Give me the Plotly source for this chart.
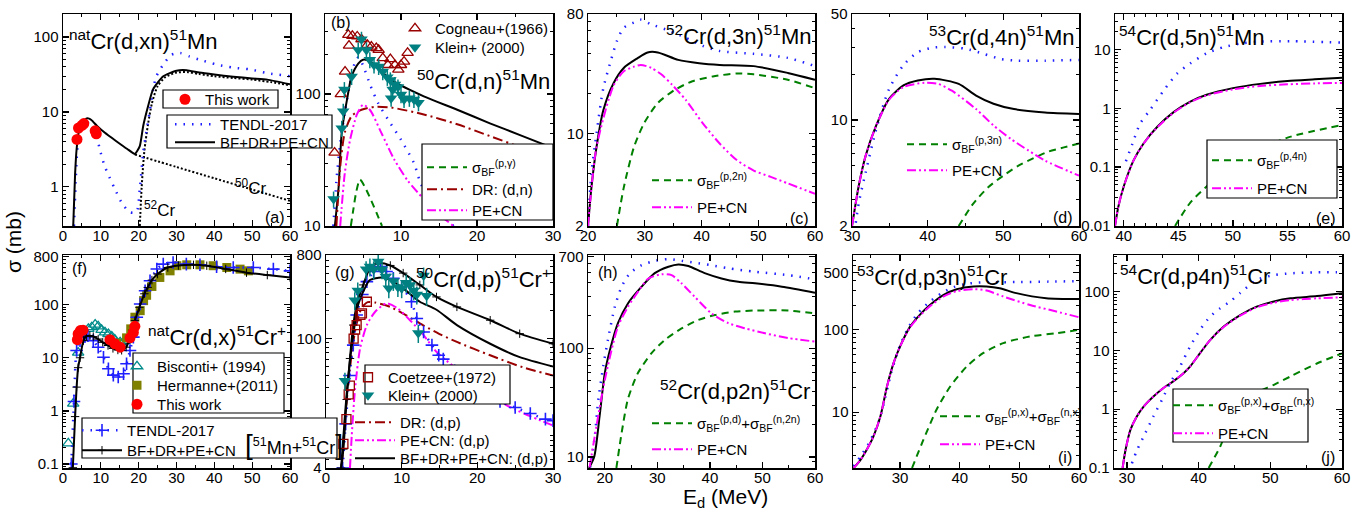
import math
import plotly.graph_objects as go

W, H = 1364, 513
FONT = "Liberation Sans, Arial, Helvetica, sans-serif"


def X(px):
    return px / W


def Y(py):
    return 1 - py / H


# ---------------- data ----------------
# (a) natCr(d,xn)51Mn
a_tot_E = [2.7, 3.2, 3.6, 4.2, 5.0, 6.0, 6.7, 7.5, 9.0, 11, 14, 17, 19.0, 20.3, 21.2, 22.5, 23.8, 26.5, 30, 32.7, 36, 40, 45, 50, 54, 60]
a_tot = [0.3, 1.5, 3.2, 5.5, 7.2, 8.1, 8.2, 7.8, 6.5, 5.3, 4.1, 3.2, 2.75, 3.5, 6.5, 12, 20, 30, 35.5, 36, 33.5, 31.5, 29.5, 28, 27, 23.4]
a_50_E = [19, 30, 40, 50, 60]
a_50 = [2.7, 1.84, 1.30, 0.92, 0.65]
a_52_E = [20.3, 20.8, 21.5, 22.5, 23.5, 25, 27, 30, 33, 36, 40, 45, 50, 55, 60]
a_52 = [0.3, 1.0, 3.0, 7, 13, 22, 29, 33.5, 34, 32, 30, 28.4, 27, 25, 22.7]
a_tendl_E = [2.9, 3.3, 3.7, 4.3, 5.0, 5.8, 6.6, 7.5, 8.8, 9.7, 11, 12.4, 13.7, 15.4, 17.6, 19.4, 20.3, 21.2, 22, 23, 23.8, 24.7, 26.5, 28.7, 31, 33.5, 36, 40.6, 45, 49.4, 54, 60]
a_tendl = [0.3, 1.0, 2.8, 5.5, 7.2, 7.6, 7.2, 6.2, 5.0, 3.2, 1.9, 1.3, 0.94, 0.63, 0.46, 0.46, 0.94, 2.9, 5.3, 10.8, 20, 30, 43, 58, 61, 55, 50, 43, 39, 37, 33, 30]
a_this_E = [3.7, 4.1, 5.0, 5.5, 8.5, 8.8]
a_this = [4.3, 6.1, 6.6, 7.0, 5.6, 5.1]

# (b) 50Cr(d,n)51Mn
b_tot_E = [1.3, 1.8, 2.2, 2.9, 3.5, 4.4, 5.0, 5.9, 7.4, 9.1, 13, 17.4, 21.7, 26, 30]
b_tot = [10, 20, 51, 91, 136, 171, 182, 177, 148, 124, 96, 76, 60, 48, 39]
b_bf_E = [3.4, 3.7, 4.1, 4.6, 5.2, 6.0, 6.8, 7.5]
b_bf = [10, 13, 18, 22.5, 20, 16, 12.5, 10]
b_dr_E = [1.5, 2.0, 2.6, 3.5, 4.8, 6.5, 8.7, 13, 17.4, 21.7, 26, 30]
b_dr = [10, 28, 51, 68, 76, 80, 79, 70, 59, 48, 39, 32]
b_pe_E = [2.0, 2.6, 3.3, 4.2, 5.0, 5.9, 7.4, 9.1, 10.9, 13, 15.2, 16.9]
b_pe = [10, 25, 45, 70, 83, 76, 51, 32, 22, 16, 12, 10]
b_tendl_E = [1.1, 1.5, 2.0, 2.6, 3.3, 3.9, 4.4, 5.0, 6.0, 7.0, 8.3, 10.0, 11.7, 12.6, 14, 15.5, 16.9]
b_tendl = [10, 22, 42, 72, 121, 171, 190, 165, 115, 85, 64, 45, 30, 21, 15.5, 12.5, 10]
b_cog_E = [1.26, 2.08, 2.64, 3.16, 3.07, 3.6, 4.24, 4.8, 5.58, 6.1, 6.75, 7.06, 7.6, 8.27, 8.6, 9.2, 9.65, 10.0, 10.4, 10.87]
b_cog = [36, 100, 148, 233, 281, 276, 273, 260, 236, 229, 223, 216, 187, 166, 184, 166, 153, 166, 176, 205]
b_klein_E = [1.13, 2.2, 2.4, 2.55, 3.5, 4.37, 4.8, 5.45, 5.9, 6.45, 7.06, 7.6, 8.2, 8.6, 8.9, 9.2, 9.6, 8.7, 10.0, 10.4, 11.1, 11.7, 12.3]
b_klein = [16, 55, 74, 108, 136, 216, 260, 216, 182, 166, 162, 148, 134, 128, 108, 118, 113, 93, 99, 91, 93, 91, 86]

# (c) 52Cr(d,3n)51Mn
c_tot_E = [20.0, 20.6, 21.5, 22.7, 24.5, 26.3, 28.7, 30.5, 32.3, 35.9, 39.6, 43.2, 49.2, 55.2, 60]
c_tot = [2.0, 3.9, 7.9, 15, 24, 31.3, 37, 41, 41, 36, 34, 33, 32.3, 28.7, 25.5]
c_tendl_E = [20.0, 20.6, 21.5, 22.7, 23.9, 25.1, 26.3, 28.1, 29.3, 31.1, 34.2, 37.2, 40.2, 43.2, 49.2, 55.2, 60]
c_tendl = [2, 5, 10, 22, 34, 50, 63, 69, 72.5, 67, 60, 53, 46, 42, 40, 37.3, 32.3]
c_bf_E = [25.1, 26.3, 28.1, 29.9, 32.3, 35.3, 38.4, 42, 46.2, 49.2, 55.2, 60]
c_bf = [2, 3.9, 7.9, 12, 17, 21.4, 24.8, 27, 28.4, 28, 25.5, 22]
c_pe_E = [20.0, 21.5, 24.5, 26.3, 28.1, 29.3, 31.1, 32.9, 34.8, 37.2, 40.2, 43.2, 46.2, 49.2, 52.2, 55.2, 60]
c_pe = [2, 7.9, 23, 29.5, 32, 33, 31.4, 28, 23.4, 18, 12, 8.4, 6.3, 5.25, 4.7, 4.2, 3.5]

# (d) 53Cr(d,4n)51Mn
d_tot_E = [30, 30.9, 31.8, 33.2, 34.9, 36.8, 38.7, 40.9, 44.1, 46.4, 48.7, 51.4, 55.5, 60]
d_tot = [2, 3.7, 5.8, 9.2, 13.8, 16.9, 18.2, 18.7, 17.3, 14.5, 12.8, 11.8, 11.2, 10.95]
d_pe_E = [30, 30.9, 31.8, 33.2, 34.9, 36.8, 39.6, 41.4, 43.2, 46.4, 48.7, 51, 53.3, 55.5, 60]
d_pe = [2, 3.7, 5.8, 9.2, 13.6, 16.5, 17.6, 17.3, 15.6, 11.8, 9.2, 7.5, 6.3, 5.4, 4.3]
d_tendl_E = [30.5, 30.9, 31.8, 33.2, 34.9, 36.8, 38.7, 40.5, 42.3, 45, 47.3, 49.6, 51.9, 55.5, 60]
d_tendl = [2.1, 2.85, 4.5, 8.7, 16, 23, 28, 29.9, 30.3, 29.5, 27.4, 25.3, 24.6, 24.6, 24.9]
d_bf_E = [44.1, 46, 48, 50, 52, 54, 56, 58, 60]
d_bf = [2, 2.8, 3.6, 4.3, 5.0, 5.6, 6.2, 6.6, 7.0]

# (e) 54Cr(d,5n)51Mn
e_tot_E = [39.2, 39.5, 40, 40.9, 41.8, 43.1, 44.6, 46.1, 47.6, 50, 52.5, 55, 57.5, 60]
e_tot = [0.01, 0.021, 0.047, 0.13, 0.25, 0.49, 0.87, 1.3, 1.7, 2.2, 2.6, 2.9, 3.1, 3.3]
e_pe = [0.01, 0.021, 0.047, 0.13, 0.25, 0.48, 0.85, 1.27, 1.65, 2.1, 2.4, 2.55, 2.65, 2.7]
e_tendl_E = [40.2, 40.8, 41.5, 42.4, 43.7, 44.9, 46.1, 47.6, 49.2, 50.7, 52.2, 55.3, 60]
e_tendl = [0.126, 0.25, 0.55, 0.93, 2.05, 3.9, 5.8, 8.6, 11, 12.6, 13.5, 13.8, 13.1]
e_bf_E = [44.7, 46.1, 47.6, 49.2, 52.2, 55.3, 60]
e_bf = [0.01, 0.025, 0.047, 0.089, 0.195, 0.33, 0.52]

# (f) natCr(d,x)51Cr cumulative
f_tot_E = [2.6, 3.2, 3.6, 4.0, 4.5, 5.4, 6.2, 7.1, 8.0, 9.3, 10.5, 11.9, 13.2, 14.5, 15.5, 16.7, 17.6, 18.4, 19.0, 20.2, 21.5, 22.4, 23.5, 25.0, 27.7, 30.5, 34.5, 38, 43, 48.5, 54, 60]
f_tot = [0.085, 0.78, 2.8, 6.5, 10, 21, 25.5, 26, 25, 22.5, 19.5, 17, 15, 14, 13.8, 15.8, 22, 33, 50, 89, 160, 211, 290, 376, 500, 545, 562, 540, 470, 400, 360, 325]
f_tendl_E = [2.2, 2.9, 3.6, 4.5, 5.8, 6.6, 8.0, 9.3, 10.7, 12.0, 13.3, 14.6, 16.0, 16.8, 17.7, 18.6, 19.5, 20.4, 21.7, 23, 24.8, 26.5, 29.1, 32.6, 36.2, 40.6, 45, 50.3, 55.6, 60]
f_tendl = [0.1, 1.5, 13.7, 21, 25, 26, 21, 15.8, 10.2, 6.2, 4.7, 4.35, 5.0, 7.7, 13.7, 24.4, 58, 103, 183, 282, 468, 580, 620, 578, 562, 517, 500, 500, 466, 433]
f_bis_E = [1.4, 2.7, 4.0, 6.7, 7.6, 8.5, 9.3, 10.2, 11.1, 12.0, 12.9, 13.7, 15.1, 16.4]
f_bis = [0.245, 1.37, 12.5, 35, 37.6, 42, 39, 33.5, 30, 28, 25, 22, 19.6, 21]
f_her_E = [14.2, 16.8, 17.9, 19.0, 20.4, 21.3, 22.1, 23.5, 25.6, 28.3, 30.1, 32.7, 36.2, 39.7, 43.3, 46.8, 49.0]
f_her = [18.8, 23.7, 35, 58, 77, 119, 150, 220, 325, 433, 540, 562, 562, 540, 500, 466, 433]
f_this_E = [3.8, 4.0, 4.6, 5.3, 12.4, 13.7, 15.1, 17.7, 18.6, 19.0]
f_this = [21.9, 28, 32.5, 33, 21.9, 18.3, 15.8, 23.7, 30, 39]

# (g) 50Cr(d,p)51Cr
g_all_E = [2.0, 2.3, 2.73, 3.17, 3.6, 4.27, 4.93, 5.8, 6.9, 8.5, 10.2, 12.4, 14.6, 17.3, 21.7, 25.6, 30]
g_all = [4, 6.4, 22, 61, 140, 272, 380, 575, 653, 617, 510, 380, 282, 220, 158, 113, 88]
g_dp_E = [2.0, 2.5, 2.95, 3.6, 4.27, 5.2, 5.8, 7.4, 8.9, 10.7, 12.4, 14.6, 17.3, 21.7, 25.6, 30]
g_dp = [4, 14.7, 40, 109, 235, 360, 430, 457, 413, 324, 250, 205, 140, 88, 63, 50]
g_dr_E = [2.1, 2.5, 3.0, 3.5, 4.0, 4.5, 5.0, 5.5, 6.5, 8.5, 10.5, 12.8, 15, 17.3, 21.7, 26, 30]
g_dr = [4.3, 13, 35, 80, 140, 195, 230, 248, 245, 220, 180, 140, 112, 92, 66, 49, 40]
g_pe_E = [3.17, 3.4, 3.84, 4.5, 5.4, 6.5, 8.0, 9.4, 11.1, 12.9, 14.6, 19.5, 23.9, 30]
g_pe = [4, 8.9, 28.6, 78, 140, 195, 240, 214, 158, 109, 72, 34, 19, 11.5]
g_tendl_E = [2.2, 2.6, 3.1, 3.6, 4.05, 4.8, 5.4, 6.3, 7.2, 8.0, 8.9, 10.0, 11.3, 12.0, 12.9, 14.0, 14.9, 15.5, 17, 19, 21, 23, 25, 27, 29, 30]
g_tendl = [4, 12, 40, 85, 180, 300, 413, 530, 600, 530, 447, 364, 250, 165, 118, 85, 66, 60, 45, 33, 26, 21, 18, 15.5, 13.5, 13]
g_coe_E = [2.3, 2.7, 3.0, 3.15, 3.65, 3.85, 4.05, 4.55, 4.75, 5.4]
g_coe = [7.3, 13.5, 25, 31, 100, 125, 140, 180, 187, 250]
g_klein_E = [2.5, 3.8, 4.2, 5.3, 5.8, 6.3, 6.9, 7.4, 7.9, 8.3, 8.9, 9.5, 10.0, 10.6, 11.1, 11.6, 12.0, 12.2, 12.9, 13.3]
g_klein = [35, 260, 330, 560, 600, 560, 680, 560, 470, 350, 420, 360, 350, 400, 380, 330, 300, 115, 480, 290]

# (h) 52Cr(d,p2n)51Cr
h_tot_E = [17.0, 18, 19, 20, 21, 22.5, 24.4, 27, 29.5, 32.1, 34, 35.9, 39, 42.2, 45.4, 48.6, 53.7, 60]
h_tot = [7.9, 10.1, 23.6, 59, 97, 170, 258, 368, 490, 562, 590, 570, 490, 438, 408, 395, 368, 324]
h_tendl_E = [17.2, 18.1, 18.7, 19.7, 20.6, 21.9, 23.2, 24.8, 27, 29.5, 32.1, 34.6, 37.1, 40.3, 43.5, 48.6, 54.9, 60]
h_tendl = [8, 15.5, 31.5, 68, 120, 240, 368, 490, 580, 636, 660, 636, 611, 580, 543, 505, 470, 430]
h_pe_E = [17.1, 20, 22.5, 24.4, 26.3, 28.3, 30.8, 32.7, 34.6, 37.1, 40.3, 43.5, 46.7, 50.5, 54.9, 60]
h_pe = [8, 51, 158, 240, 330, 438, 478, 470, 395, 297, 209, 170, 152, 137, 124, 115]
h_bf_E = [22.2, 23.2, 24.4, 26.3, 28.9, 31.4, 34.6, 37.8, 41, 44.8, 48.6, 54.9, 60]
h_bf = [7.9, 16.6, 34, 59, 90, 119, 152, 182, 202, 217, 222, 222, 209]

# (i) 53Cr(d,p3n)51Cr
i_tot_E = [22.2, 23.3, 24.4, 25.5, 26.7, 27.8, 28.9, 30, 31.7, 33.3, 35, 37.3, 39.5, 42.3, 44.5, 46.7, 49.5, 54.5, 60]
i_tot = [2.1, 2.6, 3.5, 5, 8.9, 20.5, 39.4, 63, 110, 152, 200, 266, 311, 336, 336, 320, 279, 242, 236]
i_pe_E = [22.2, 23.3, 24.4, 25.5, 26.7, 27.8, 28.9, 30, 31.7, 33.3, 35, 37.3, 39.5, 42.3, 44.5, 47.3, 51.8, 56.2, 60]
i_pe = [2.1, 2.6, 3.5, 5, 8.9, 20.5, 39.4, 63, 108, 148, 193, 255, 295, 312, 300, 254, 200, 167, 142]
i_tendl_E = [22.2, 23.5, 25, 26.5, 27.5, 28.5, 30, 31.5, 33, 35, 37, 39, 41, 43, 45, 50, 55, 60]
i_tendl = [2.2, 3.0, 4.5, 8, 15, 30, 65, 110, 160, 220, 280, 330, 360, 375, 378, 380, 385, 390]
i_bf_E = [32, 33.9, 36.1, 38.4, 41.2, 43.9, 47.3, 51.8, 56.2, 60]
i_bf = [2.1, 4.6, 10.7, 20.5, 36, 52, 69, 83, 91, 100]

# (j) 54Cr(d,p4n)51Cr
j_tot_E = [29.4, 29.8, 30.5, 31.4, 32.3, 33.7, 35.1, 36.5, 37.9, 38.8, 40.2, 41.6, 43.5, 45.8, 48.1, 50.5, 52.8, 56.5, 60]
j_tot = [0.1, 0.2, 0.45, 0.76, 1.1, 1.65, 2.3, 3.0, 4.1, 5.3, 9, 15, 25.5, 40, 55.6, 68, 77, 84, 94]
j_pe = [0.1, 0.2, 0.45, 0.76, 1.1, 1.65, 2.3, 3.0, 4.1, 5.3, 9, 15, 25, 39, 54, 65, 72, 77, 80]
j_tendl_E = [30.7, 31.4, 32.6, 33.7, 34.9, 36, 37.4, 38.8, 40.2, 41.6, 43, 44.4, 45.8, 48.1, 50.5, 52.8, 56.5, 59.3]
j_tendl = [0.12, 0.2, 0.4, 0.76, 1.45, 2.76, 5.3, 11.6, 22.4, 37.6, 52, 68, 95, 158, 191, 205, 213, 213]
j_bf_E = [41.4, 43, 44.4, 47.2, 50.5, 52.8, 56.5, 60]
j_bf = [0.1, 0.23, 0.58, 1.65, 2.6, 3.6, 6, 8.9]

# ---------------- axes ----------------
PANELS = {
    'a': dict(i=1, box=(63, 290, 14, 226), xr=[0, 60], yr=[0.3, 203], xt=[0, 10, 20, 30, 40, 50, 60], xl=None, yt=[1, 10, 100], xm=5),
    'b': dict(i=2, box=(325, 553, 14, 226), xr=[0, 30], yr=[10, 404], xt=[0, 10, 20, 30], xl=['', '10', '20', '30'], yt=[10, 100], xm=5),
    'c': dict(i=3, box=(588, 815, 14, 226), xr=[20, 60], yr=[2, 80], xt=[20, 30, 40, 50, 60], xl=None, yt=[2, 10, 80], xm=5),
    'd': dict(i=4, box=(852, 1079, 14, 226), xr=[30, 60], yr=[2, 50], xt=[30, 40, 50, 60], xl=None, yt=[2, 10, 50], xm=5),
    'e': dict(i=5, box=(1115, 1342, 14, 226), xr=[39.2, 60], yr=[0.01, 40], xt=[40, 45, 50, 55, 60], xl=None, yt=[0.01, 0.1, 1, 10], xm=1),
    'f': dict(i=6, box=(63, 290, 255, 468), xr=[0, 60], yr=[0.084, 860], xt=[0, 10, 20, 30, 40, 50, 60], xl=None, yt=[0.1, 1, 10, 100, 800], xm=5),
    'g': dict(i=7, box=(326, 553, 255, 468), xr=[0, 30], yr=[4, 800], xt=[0, 10, 20, 30], xl=None, yt=[4, 100, 800], xm=5),
    'h': dict(i=8, box=(588, 815, 255, 468), xr=[16.8, 60], yr=[7.9, 720], xt=[20, 30, 40, 50, 60], xl=None, yt=[10, 100, 700], xm=5),
    'i': dict(i=9, box=(853, 1079, 255, 468), xr=[22.1, 60], yr=[2.1, 810], xt=[30, 40, 50, 60], xl=None, yt=[10, 100, 500], xm=5),
    'j': dict(i=10, box=(1114, 1342, 255, 468), xr=[28.2, 60], yr=[0.1, 420], xt=[30, 40, 50, 60], xl=None, yt=[0.1, 1, 10, 100], xm=5),
}

fig = go.Figure()
layout = dict(template='none', width=W, height=H, margin=dict(l=0, r=0, t=0, b=0, pad=0, autoexpand=False),
              paper_bgcolor='white', plot_bgcolor='white',
              font=dict(family=FONT, color='black'), showlegend=True)


def log_minor(lo, hi):
    out = []
    for e in range(-3, 4):
        for m in range(2, 10):
            v = m * 10 ** e
            if lo < v < hi:
                out.append(v)
    return out


def fmt(v):
    return '%g' % v


for key, p in PANELS.items():
    i = p['i']
    x0, x1, y0, y1 = p['box']
    sfx = '' if i == 1 else str(i)
    common = dict(showline=True, linecolor='black', linewidth=1.5, mirror='allticks', ticks='inside',
                  ticklen=6, tickwidth=1.3, tickcolor='black', showgrid=False, zeroline=False, automargin=False,
                  tickfont=dict(family=FONT, size=15, color='black'), fixedrange=True)
    xm = []
    k = math.ceil(p['xr'][0] / p['xm'])
    while k * p['xm'] < p['xr'][1]:
        val = k * p['xm']
        if val not in p['xt']:
            xm.append(val)
        k += 1
    layout['xaxis' + sfx] = dict(domain=[X(x0), X(x1)], range=p['xr'], tickmode='array', tickvals=p['xt'],
                                 ticktext=p['xl'] if p['xl'] else [fmt(t) for t in p['xt']],
                                 anchor='y' + sfx, ticklabelstandoff=-5,
                                 minor=dict(tickmode='array', tickvals=xm, ticks='inside', ticklen=3, tickcolor='black', tickwidth=1),
                                 **common)
    lo, hi = p['yr']
    layout['yaxis' + sfx] = dict(domain=[Y(y1), Y(y0)], type='log', range=[math.log10(lo), math.log10(hi)],
                                 tickmode='array', tickvals=p['yt'], ticktext=[fmt(t) for t in p['yt']],
                                 anchor='x' + sfx,
                                 minor=dict(tickmode='array', tickvals=log_minor(lo, hi), ticks='inside', ticklen=3, tickcolor='black', tickwidth=1),
                                 **common)

# ---------------- styles ----------------
S_TOT = dict(color='black', width=2)
S_TENDL = dict(color='#1f1fff', width=2.5, dash='1.5px,7px')
S_BF = dict(color='#008000', width=2, dash='7px,5px')
S_DR = dict(color='#990000', width=2, dash='10px,4px,2px,4px')
S_PE = dict(color='#ff00ff', width=2, dash='9px,3px,2px,3px,2px,3px')
S_PART = dict(color='black', width=2, dash='2px,2px')

M_THIS = dict(symbol='circle', color='#ff0000', size=11)
M_COG = dict(symbol='triangle-up-open', color='#990000', size=10, line=dict(width=1.3, color='#990000'))
M_KLEIN = dict(symbol='triangle-down', color='#008080', size=11)
M_BIS = dict(symbol='triangle-up-open', color='#008b8b', size=10, line=dict(width=1.3, color='#008b8b'))
M_HER = dict(symbol='square', color='#808000', size=9)
M_COE = dict(symbol='square-open', color='#990000', size=9, line=dict(width=1.3, color='#990000'))
M_TPLUS = dict(symbol='cross-thin', color='#1f1fff', size=9, line=dict(width=1.6, color='#1f1fff'))
M_KPLUS = dict(symbol='cross-thin', color='black', size=6, line=dict(width=1, color='black'))

SIG_BF = 'σ<sub>BF</sub><sup>%s</sup>'
LEG = {}
_leg_count = [0]


def add(pk, x, y, line=None, mode='lines', name='', leg=None, marker=None, err=None, smooth=0.7):
    """leg = (text_x, row_center_y) in page pixels for its own legend entry."""
    i = PANELS[pk]['i']
    sfx = '' if i == 1 else str(i)
    kw = dict(x=x, y=y, mode=mode, name=name, xaxis='x' + sfx, yaxis='y' + sfx, hoverinfo='skip')
    if line is not None:
        ln = dict(line)
        ln['shape'] = 'spline'
        ln['smoothing'] = smooth
        kw['line'] = ln
    if marker is not None:
        kw['marker'] = marker
    if err is not None:
        kw['error_y'] = dict(type='percent', value=err, color='#008080', thickness=1.5, width=0)
    if leg is None:
        kw['showlegend'] = False
    else:
        _leg_count[0] += 1
        n = _leg_count[0]
        lname = 'legend' if n == 1 else 'legend%d' % n
        iw = 40 if 'lines' in mode else 30
        tx, ty = leg
        lx = tx - (iw + 10)
        ly = ty - 16
        LEG[lname] = dict(x=X(lx), y=Y(ly), xanchor='left', yanchor='top', bgcolor='rgba(0,0,0,0)', borderwidth=0,
                          font=dict(family=FONT, size=15, color='black'), itemwidth=iw, tracegroupgap=0,
                          itemclick=False, itemdoubleclick=False)
        kw['showlegend'] = True
        kw['legend'] = lname
    fig.add_trace(go.Scatter(**kw))


# (a)
add('a', a_50_E, a_50, S_PART)
add('a', a_52_E, a_52, S_PART)
add('a', a_tendl_E, a_tendl, S_TENDL, name='TENDL-2017', leg=(220, 124))
add('a', a_tot_E, a_tot, S_TOT, name='BF+DR+PE+CN', leg=(220, 142), smooth=0.5)
add('a', a_this_E, a_this, mode='markers', marker=M_THIS, name='This work', leg=(205, 99))
# (b)
add('b', b_tendl_E, b_tendl, S_TENDL)
add('b', b_tot_E, b_tot, S_TOT)
add('b', b_bf_E, b_bf, S_BF, name=SIG_BF % '(p,γ)', leg=(472, 167))
add('b', b_dr_E, b_dr, S_DR, name='DR: (d,n)', leg=(472, 189))
add('b', b_pe_E, b_pe, S_PE, name='PE+CN', leg=(472, 210))
add('b', b_cog_E, b_cog, mode='markers', marker=M_COG, name='Cogneau+(1966)', leg=(435, 28))
add('b', b_klein_E, b_klein, mode='markers', marker=M_KLEIN, err=14, name='Klein+ (2000)', leg=(435, 47))
# (c)
add('c', c_tendl_E, c_tendl, S_TENDL)
add('c', c_tot_E, c_tot, S_TOT)
add('c', c_bf_E, c_bf, S_BF, name=SIG_BF % '(p,2n)', leg=(697, 180))
add('c', c_pe_E, c_pe, S_PE, name='PE+CN', leg=(697, 207))
# (d)
add('d', d_tendl_E, d_tendl, S_TENDL)
add('d', d_tot_E, d_tot, S_TOT)
add('d', d_bf_E, d_bf, S_BF, name=SIG_BF % '(p,3n)', leg=(952, 144))
add('d', d_pe_E, d_pe, S_PE, name='PE+CN', leg=(952, 170))
# (e)
add('e', e_tendl_E, e_tendl, S_TENDL)
add('e', e_tot_E, e_tot, S_TOT)
add('e', e_bf_E, e_bf, S_BF, name=SIG_BF % '(p,4n)', leg=(1257, 160))
add('e', e_tot_E, e_pe, S_PE, name='PE+CN', leg=(1257, 188))
# (f)
add('f', f_bis_E, f_bis, mode='markers', marker=M_BIS, name='Bisconti+ (1994)', leg=(157, 366))
add('f', f_her_E, f_her, mode='markers', marker=M_HER, name='Hermanne+(2011)', leg=(157, 385))
add('f', f_tendl_E, f_tendl, S_TENDL, mode='lines+markers', marker=M_TPLUS, name='TENDL-2017', leg=(127, 430))
add('f', f_tot_E, f_tot, S_TOT, mode='lines+markers', marker=M_KPLUS, name='BF+DR+PE+CN', leg=(127, 450), smooth=0.6)
add('f', f_this_E, f_this, mode='markers', marker=M_THIS, name='This work', leg=(157, 404))
# (g)
add('g', g_dr_E, g_dr, S_DR, name='DR: (d,p)', leg=(400, 422))
add('g', g_pe_E, g_pe, S_PE, name='PE+CN: (d,p)', leg=(400, 440))
add('g', g_tendl_E, g_tendl, S_TENDL, mode='lines+markers', marker=M_TPLUS)
add('g', g_all_E, g_all, S_TOT, mode='lines+markers', marker=M_KPLUS)
add('g', g_dp_E, g_dp, S_TOT, name='BF+DR+PE+CN: (d,p)', leg=(400, 458))
add('g', g_coe_E, g_coe, mode='markers', marker=M_COE, name='Coetzee+(1972)', leg=(388, 377))
add('g', g_klein_E, g_klein, mode='markers', marker=M_KLEIN, err=22, name='Klein+ (2000)', leg=(388, 395))
# (h)
add('h', h_tendl_E, h_tendl, S_TENDL)
add('h', h_tot_E, h_tot, S_TOT)
add('h', h_bf_E, h_bf, S_BF, name=(SIG_BF % '(p,d)') + '+' + (SIG_BF % '(n,2n)'), leg=(697, 423))
add('h', h_pe_E, h_pe, S_PE, name='PE+CN', leg=(697, 449))
# (i)
add('i', i_tendl_E, i_tendl, S_TENDL)
add('i', i_tot_E, i_tot, S_TOT)
add('i', i_bf_E, i_bf, S_BF, name=(SIG_BF % '(p,x)') + '+' + (SIG_BF % '(n,x)'), leg=(985, 416))
add('i', i_pe_E, i_pe, S_PE, name='PE+CN', leg=(985, 444))
# (j)
add('j', j_tendl_E, j_tendl, S_TENDL)
add('j', j_tot_E, j_tot, S_TOT)
add('j', j_bf_E, j_bf, S_BF, name=(SIG_BF % '(p,x)') + '+' + (SIG_BF % '(n,x)'), leg=(1218, 405))
add('j', j_tot_E, j_pe, S_PE, name='PE+CN', leg=(1218, 433))

layout.update(LEG)

# legend frames (white boxes)
BOXES = [(163, 90, 278, 108), (167, 115, 332, 148), (422, 144, 553, 220), (1207, 140, 1337, 198),
         (133, 353, 284, 413), (82, 418, 337, 458), (365, 365, 510, 404), (1173, 389, 1308, 442)]
layout['shapes'] = [dict(type='rect', xref='paper', yref='paper', x0=X(bx0), x1=X(bx1), y0=Y(by1), y1=Y(by0),
                         line=dict(color='black', width=1.2), fillcolor='white', layer='above')
                    for (bx0, by0, bx1, by1) in BOXES]

# ---------------- annotations ----------------
ANN = [
    ('<sup>nat</sup>Cr(d,xn)<sup>51</sup>Mn', 67, 40, 'left', 22, 0),
    ('(a)', 287, 217, 'right', 16, 0),
    ('<sup>50</sup>Cr', 251, 187, 'center', 17, 0),
    ('<sup>52</sup>Cr', 160, 209, 'center', 17, 0),
    ('(b)', 329, 23, 'left', 16, 0),
    ('<sup>50</sup>Cr(d,n)<sup>51</sup>Mn', 552, 80, 'right', 22, 0),
    ('<sup>52</sup>Cr(d,3n)<sup>51</sup>Mn', 814, 35, 'right', 22, 0),
    ('(c)', 811, 218, 'right', 16, 0),
    ('<sup>53</sup>Cr(d,4n)<sup>51</sup>Mn', 1077, 36, 'right', 22, 0),
    ('(d)', 1075, 217, 'right', 16, 0),
    ('<sup>54</sup>Cr(d,5n)<sup>51</sup>Mn', 1117, 36, 'left', 22, 0),
    ('(e)', 1338, 218, 'right', 16, 0),
    ('(f)', 70, 268, 'left', 16, 0),
    ('<sup>nat</sup>Cr(d,x)<sup>51</sup>Cr<sup>+</sup>', 146, 336, 'left', 22, 0),
    ('<span style="font-size:28px">[</span><sup>51</sup>Mn+<sup>51</sup>Cr<span style="font-size:28px">]</span>', 243, 444, 'left', 18, 0),
    ('(g)', 333, 272, 'left', 16, 0),
    ('<sup>50</sup>Cr(d,p)<sup>51</sup>Cr<sup>+</sup>', 553, 278, 'right', 22, 0),
    ('(h)', 596, 272, 'left', 16, 0),
    ('<sup>52</sup>Cr(d,p2n)<sup>51</sup>Cr', 812, 390, 'right', 22, 0),
    ('<sup>53</sup>Cr(d,p3n)<sup>51</sup>Cr', 855, 276, 'left', 22, 0),
    ('(i)', 1074, 457, 'right', 16, 0),
    ('<sup>54</sup>Cr(d,p4n)<sup>51</sup>Cr', 1118, 275, 'left', 22, 0),
    ('(j)', 1337, 457, 'right', 16, 0),
    ('σ (mb)', 13, 242, 'center', 21, -90),
    ('E<sub>d</sub> (MeV)', 725, 498, 'center', 21, 0),
]
layout['annotations'] = [dict(text=t, x=X(px), y=Y(py), xref='paper', yref='paper', xanchor=xa, yanchor='middle',
                              showarrow=False, textangle=rot, font=dict(family=FONT, size=fs, color='black'))
                         for (t, px, py, xa, fs, rot) in ANN]

fig.update_layout(**layout)
# remove the browser's default 8px body margin so the figure fills the 1364x513 window exactly
fig.write_html('out.html', config={'displayModeBar': False, 'staticPlot': True},
               post_script="document.body.style.margin='0';document.body.style.overflow='hidden';")
